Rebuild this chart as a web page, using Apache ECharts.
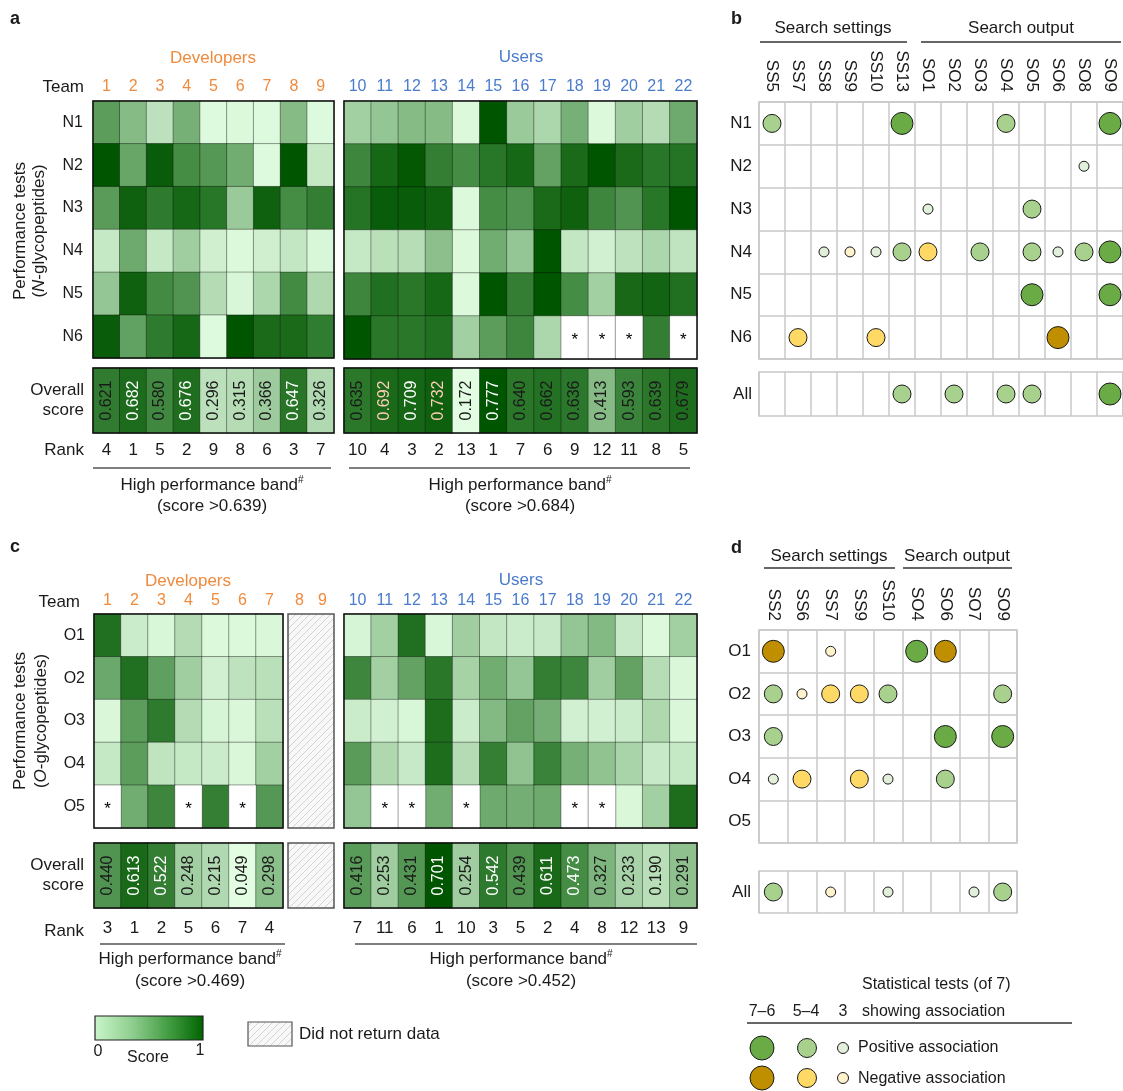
<!DOCTYPE html>
<html><head><meta charset="utf-8">
<script src="https://cdn.jsdelivr.net/npm/echarts@6/dist/echarts.min.js"></script>
<style>html,body{margin:0;padding:0;background:#fff}#c{width:1123px;height:1091px}</style>
</head><body><div id="c"></div>
<script>
// ---------------- DATA ----------------
const aDevTeams = ['1','2','3','4','5','6','7','8','9'];
const aUserTeams = ['10','11','12','13','14','15','16','17','18','19','20','21','22'];
const aTests = ['N1','N2','N3','N4','N5','N6'];
const aDevScores = [
  [0.55,0.40,0.20,0.45,0.02,0.03,0.02,0.40,0.02],
  [1.00,0.50,0.95,0.65,0.58,0.47,0.02,1.00,0.15],
  [0.56,0.92,0.75,0.88,0.78,0.33,0.92,0.65,0.73],
  [0.15,0.48,0.15,0.31,0.10,0.03,0.10,0.16,0.05],
  [0.35,0.92,0.66,0.60,0.24,0.05,0.27,0.66,0.26],
  [0.95,0.53,0.75,0.88,0.02,1.00,0.86,0.86,0.74]
];
const aUserScores = [
  [0.30,0.35,0.40,0.40,0.03,1.00,0.33,0.27,0.45,0.03,0.31,0.24,0.48],
  [0.68,0.88,0.98,0.73,0.65,0.78,0.88,0.52,0.86,1.00,0.86,0.78,0.80],
  [0.80,0.95,0.95,0.92,0.03,0.65,0.60,0.86,0.92,0.68,0.60,0.78,1.00],
  [0.15,0.21,0.23,0.38,0.03,0.47,0.35,1.00,0.16,0.09,0.19,0.27,0.18],
  [0.68,0.82,0.77,0.88,0.03,1.00,0.73,1.00,0.65,0.30,0.87,0.90,0.82],
  [1.00,0.77,0.77,0.82,0.30,0.55,0.68,0.27,null,null,null,0.73,null]
];
const aDevOverall = [0.621,0.682,0.580,0.676,0.296,0.315,0.366,0.647,0.326];
const aDevRank = [4,1,5,2,9,8,6,3,7];
const aUserOverall = [0.635,0.692,0.709,0.732,0.172,0.777,0.640,0.662,0.636,0.413,0.593,0.639,0.679];
const aUserRank = [10,4,3,2,13,1,7,6,9,12,11,8,5];
const aDevBand = 0.639, aUserBand = 0.684;
const aUserHighlight = ['11','13'];

const cDevTeams = ['1','2','3','4','5','6','7'];
const cNoDataTeams = ['8','9'];
const cUserTeams = ['10','11','12','13','14','15','16','17','18','19','20','21','22'];
const cTests = ['O1','O2','O3','O4','O5'];
const cDevScores = [
  [0.82,0.12,0.05,0.24,0.03,0.03,0.04],
  [0.49,0.82,0.54,0.31,0.09,0.19,0.21],
  [0.04,0.55,0.75,0.24,0.06,0.04,0.21],
  [0.15,0.55,0.18,0.15,0.12,0.04,0.30],
  [null,0.47,0.68,null,0.72,null,0.58]
];
const cUserScores = [
  [0.06,0.30,0.82,0.05,0.31,0.16,0.12,0.14,0.35,0.41,0.14,0.03,0.30],
  [0.68,0.30,0.52,0.77,0.29,0.47,0.35,0.73,0.68,0.31,0.52,0.23,0.04],
  [0.12,0.09,0.05,0.84,0.12,0.41,0.52,0.46,0.09,0.09,0.12,0.26,0.04],
  [0.56,0.26,0.14,0.84,0.24,0.72,0.36,0.70,0.45,0.36,0.28,0.14,0.15],
  [0.35,null,null,0.47,null,0.48,0.46,0.48,null,null,0.04,0.30,0.84]
];
const cDevOverall = [0.440,0.613,0.522,0.248,0.215,0.049,0.298];
const cDevRank = [3,1,2,5,6,7,4];
const cUserOverall = [0.416,0.253,0.431,0.701,0.254,0.542,0.439,0.611,0.473,0.327,0.233,0.190,0.291];
const cUserRank = [7,11,6,1,10,3,5,2,4,8,12,13,9];
const cDevBand = 0.469, cUserBand = 0.452;

// bubble: [column, test, level (3 = 7–6 tests, 2 = 5–4, 1 = 3), sign (+1 positive, -1 negative)]
const bCols = ['SS5','SS7','SS8','SS9','SS10','SS13','SO1','SO2','SO3','SO4','SO5','SO6','SO8','SO9'];
const bRows = ['N1','N2','N3','N4','N5','N6'];
const bAssoc = [
  ['SS5','N1',2,1],['SS13','N1',3,1],['SO4','N1',2,1],['SO9','N1',3,1],
  ['SO8','N2',1,1],
  ['SO1','N3',1,1],['SO5','N3',2,1],
  ['SS8','N4',1,1],['SS9','N4',1,-1],['SS10','N4',1,1],['SS13','N4',2,1],['SO1','N4',2,-1],['SO3','N4',2,1],
  ['SO5','N4',2,1],['SO6','N4',1,1],['SO8','N4',2,1],['SO9','N4',3,1],
  ['SO5','N5',3,1],['SO9','N5',3,1],
  ['SS7','N6',2,-1],['SS10','N6',2,-1],['SO6','N6',3,-1]
];
const bAll = [['SS13','All',2,1],['SO2','All',2,1],['SO4','All',2,1],['SO5','All',2,1],['SO9','All',3,1]];

const dCols = ['SS2','SS6','SS7','SS9','SS10','SO4','SO6','SO7','SO9'];
const dRows = ['O1','O2','O3','O4','O5'];
const dAssoc = [
  ['SS2','O1',3,-1],['SS7','O1',1,-1],['SO4','O1',3,1],['SO6','O1',3,-1],
  ['SS2','O2',2,1],['SS6','O2',1,-1],['SS7','O2',2,-1],['SS9','O2',2,-1],['SS10','O2',2,1],['SO9','O2',2,1],
  ['SS2','O3',2,1],['SO6','O3',3,1],['SO9','O3',3,1],
  ['SS2','O4',1,1],['SS6','O4',2,-1],['SS9','O4',2,-1],['SS10','O4',1,1],['SO6','O4',2,1]
];
const dAll = [['SS2','All',2,1],['SS7','All',1,-1],['SS10','All',1,1],['SO7','All',1,1],['SO9','All',2,1]];

// ---------------- STYLE ----------------
const FONT = '"Liberation Sans", Arial, Helvetica, sans-serif';
const TXT = '#1a1a1a';
const ORANGE = '#f08a3c', BLUE = '#4a7bcc';
const GREENS = ['#e2fde2','#b2dab2','#68a668','#2e7a2e','#005500'];
const POS = {3:'#6aab46', 2:'#a9d18e', 1:'#e2efda'};
const NEG = {3:'#bf8f00', 2:'#ffd966', 1:'#fff2cc'};
const SIZE = {3:22, 2:18, 1:10};

function hatchPattern(){
  const cv = document.createElement('canvas'); cv.width = 7; cv.height = 7;
  const g = cv.getContext('2d');
  g.fillStyle = '#f8f8f8'; g.fillRect(0,0,7,7);
  g.strokeStyle = '#d4d4d4'; g.lineWidth = 1;
  g.beginPath(); g.moveTo(0,7); g.lineTo(7,0); g.moveTo(-1,1); g.lineTo(1,-1); g.moveTo(6,8); g.lineTo(8,6); g.stroke();
  return {image: cv, repeat: 'repeat'};
}
const HATCH = hatchPattern();

function cells(m){ const o=[]; m.forEach((row,r)=>row.forEach((v,c)=>{ if(v!==null) o.push([c,r,v]); })); return o; }
function missing(m){ const o=[]; m.forEach((row,r)=>row.forEach((v,c)=>{ if(v===null) o.push([c,r,0]); })); return o; }
function overall(scores, band, teams, highlight){
  return scores.map((v,i)=>({value:[i,0,v], label:{color: (highlight||[]).includes(teams[i]) ? '#ffcdb8' : (v>band ? '#ffffff' : TXT)}}));
}

const G = [
  {left:93, top:101, width:241, height:257},
  {left:344, top:101, width:353, height:258},
  {left:93, top:368, width:241, height:65},
  {left:344, top:368, width:353, height:65},
  {left:94, top:614, width:189, height:214},
  {left:288, top:614, width:46, height:214},
  {left:344, top:614, width:353, height:214},
  {left:94, top:843, width:189, height:65},
  {left:288, top:843, width:46, height:65},
  {left:344, top:843, width:353, height:65},
  {left:759, top:102, width:366, height:257},
  {left:759, top:372, width:366, height:44},
  {left:759, top:630, width:258, height:213},
  {left:759, top:871, width:258, height:42}
];
const grids = G.map((g,i)=>{
  const base = Object.assign({containLabel:false}, g);
  if (i>=10) return Object.assign(base, {show:true, borderColor:'#c8c8c8', borderWidth:1.5, backgroundColor:'#fff'});
  if (i===5 || i===8) return Object.assign(base, {show:false});
  return Object.assign(base, {show:true, borderColor:'#111', borderWidth:1.5, backgroundColor:'transparent', z:5});
});

function xCat(gi, data, o){
  return {gridIndex:gi, type:'category', data, position:o.pos||'top',
    axisLine:{show:false}, axisTick:{show:false},
    splitLine:{show:!!o.split, interval:0, lineStyle:{color:'#c8c8c8', width:1.5}},
    axisLabel:Object.assign({show:o.show!==false, interval:0, fontFamily:FONT, fontSize:o.fs||16, color:o.color||TXT, margin:o.margin||6}, o.label||{})};
}
function yCat(gi, data, o){
  return {gridIndex:gi, type:'category', data, inverse:true,
    axisLine:{show:false}, axisTick:{show:false},
    splitLine:{show:!!o.split, interval:0, lineStyle:{color:'#c8c8c8', width:1.5}},
    axisLabel:Object.assign({show:o.show!==false, interval:0, fontFamily:FONT, fontSize:o.fs||16, color:TXT, margin:o.margin||10}, o.label||{})};
}
const xAxes = [
  xCat(0, aDevTeams, {color:ORANGE, margin:6}),
  xCat(1, aUserTeams, {color:BLUE, margin:6}),
  xCat(2, aDevTeams, {pos:'bottom', fs:17, margin:9, label:{formatter:(v,i)=>String(aDevRank[i])}}),
  xCat(3, aUserTeams, {pos:'bottom', fs:17, margin:9, label:{formatter:(v,i)=>String(aUserRank[i])}}),
  xCat(4, cDevTeams, {color:ORANGE, margin:5}),
  xCat(5, cNoDataTeams, {color:ORANGE, margin:5}),
  xCat(6, cUserTeams, {color:BLUE, margin:5}),
  xCat(7, cDevTeams, {pos:'bottom', fs:17, margin:12, label:{formatter:(v,i)=>String(cDevRank[i])}}),
  xCat(8, cNoDataTeams, {pos:'bottom', show:false}),
  xCat(9, cUserTeams, {pos:'bottom', fs:17, margin:12, label:{formatter:(v,i)=>String(cUserRank[i])}}),
  xCat(10, bCols, {fs:17, margin:10, split:true, label:{rotate:90}}),
  xCat(11, bCols, {pos:'bottom', show:false, split:true}),
  xCat(12, dCols, {fs:17, margin:9, split:true, label:{rotate:90}}),
  xCat(13, dCols, {pos:'bottom', show:false, split:true})
];
const yAxes = [
  yCat(0, aTests, {margin:10}),
  yCat(1, aTests, {show:false}),
  yCat(2, ['Overall\nscore'], {fs:17, margin:9, label:{lineHeight:20}}),
  yCat(3, ['Overall\nscore'], {show:false}),
  yCat(4, cTests, {margin:9}),
  yCat(5, cTests, {show:false}),
  yCat(6, cTests, {show:false}),
  yCat(7, ['Overall\nscore'], {fs:17, margin:10, label:{lineHeight:20}}),
  yCat(8, ['Overall\nscore'], {show:false}),
  yCat(9, ['Overall\nscore'], {show:false}),
  yCat(10, bRows, {fs:17, margin:7, split:true}),
  yCat(11, ['All'], {fs:17, margin:7}),
  yCat(12, dRows, {fs:17, margin:8, split:true}),
  yCat(13, ['All'], {fs:17, margin:8})
];

function heat(gi, data, extra){
  return Object.assign({type:'heatmap', xAxisIndex:gi, yAxisIndex:gi, data,
    itemStyle:{borderColor:'rgba(0,0,0,0.45)', borderWidth:0.8},
    emphasis:{disabled:true}, animation:false}, extra||{});
}
const scoreLabel = {show:true, rotate:90, fontFamily:FONT, fontSize:16, formatter:p=>p.value[2].toFixed(3)};
const starSeries = {itemStyle:{color:'#ffffff', borderColor:'rgba(0,0,0,0.45)', borderWidth:0.8},
  label:{show:true, formatter:'*', fontFamily:FONT, fontSize:17, color:'#000', offset:[0,3]}};
function hatchSeries(gi){
  return {type:'custom', coordinateSystem:'cartesian2d', xAxisIndex:gi, yAxisIndex:gi, data:[[0,0]], clip:false, z:3,
    renderItem:(params)=>{ const cs = params.coordSys;
      return {type:'rect', shape:{x:cs.x, y:cs.y, width:cs.width, height:cs.height},
        style:{fill:HATCH, stroke:'#555', lineWidth:1.5}}; }, silent:true};
}
function bubbles(gi, assoc){
  return {type:'scatter', xAxisIndex:gi, yAxisIndex:gi, data:assoc.map(a=>a.slice()), z:3, animation:false,
    symbolSize:v=>SIZE[v[2]],
    itemStyle:{borderColor:'#1a1a1a', borderWidth:1, opacity:1, color:p=>(p.value[3]>0?POS:NEG)[p.value[2]]},
    emphasis:{disabled:true}};
}

const series = [
  heat(0, cells(aDevScores)),
  heat(1, cells(aUserScores)),
  heat(2, overall(aDevOverall, aDevBand, aDevTeams), {label:scoreLabel}),
  heat(3, overall(aUserOverall, aUserBand, aUserTeams, aUserHighlight), {label:scoreLabel}),
  heat(4, cells(cDevScores)),
  heat(6, cells(cUserScores)),
  heat(7, overall(cDevOverall, cDevBand, cDevTeams), {label:scoreLabel}),
  heat(9, overall(cUserOverall, cUserBand, cUserTeams), {label:scoreLabel}),
  heat(1, missing(aUserScores), starSeries),
  heat(4, missing(cDevScores), starSeries),
  heat(6, missing(cUserScores), starSeries),
  hatchSeries(5),
  hatchSeries(8),
  bubbles(10, bAssoc),
  bubbles(11, bAll),
  bubbles(12, dAssoc),
  bubbles(13, dAll)
];

const aAll = aDevOverall.concat(aUserOverall), cAll = cDevOverall.concat(cUserOverall);
const visualMap = [
  {type:'continuous', show:false, dimension:2, min:0, max:1, seriesIndex:[0,1,4,5], inRange:{color:GREENS}},
  {type:'continuous', show:false, dimension:2, min:Math.min(...aAll), max:Math.max(...aAll), seriesIndex:[2,3], inRange:{color:GREENS}},
  {type:'continuous', show:false, dimension:2, min:Math.min(...cAll), max:Math.max(...cAll), seriesIndex:[6,7], inRange:{color:GREENS}}
];

// ---------------- GRAPHIC TEXT / LEGENDS ----------------
function T(x,y,text,o){ o=o||{};
  const st = {text, fill:o.fill||TXT, fontSize:o.fs||17, fontFamily:FONT, fontWeight:o.fw||'normal',
    align:o.align||'center', verticalAlign:o.va||'middle'};
  if (o.rich) st.rich = o.rich;
  return {type:'text', x, y, rotation:o.rot||0, style:st, silent:true};
}
function L(x1,y1,x2,y2,c){ return {type:'line', shape:{x1,y1,x2,y2}, style:{stroke:c||'#333', lineWidth:1.5}, silent:true}; }
function C(cx,cy,r,fill){ return {type:'circle', shape:{cx,cy,r}, style:{fill, stroke:'#1a1a1a', lineWidth:1}, silent:true}; }
const bandRich = {t:{fontSize:17, fontFamily:FONT, fill:TXT}, s:{fontSize:10, fontFamily:FONT, fill:TXT, padding:[0,0,9,0]}};
const italRich = (letter)=>({
  p:{fontSize:17, fontFamily:FONT, fill:TXT},
  i:{fontSize:17, fontFamily:FONT, fill:TXT, fontStyle:'italic'}
});
const graphic = [
  T(10,19,'a',{fw:'bold', fs:18, align:'left'}),
  T(731,19,'b',{fw:'bold', fs:18, align:'left'}),
  T(10,547,'c',{fw:'bold', fs:18, align:'left'}),
  T(731,548,'d',{fw:'bold', fs:18, align:'left'}),
  // panel a
  T(213,58,'Developers',{fill:ORANGE}),
  T(521,57,'Users',{fill:BLUE}),
  T(84,87,'Team',{align:'right'}),
  T(84,450,'Rank',{align:'right'}),
  T(20,231,'Performance tests',{rot:Math.PI/2}),
  T(39,231,'{p|(}{i|N}{p|-glycopeptides)}',{rot:Math.PI/2, rich:italRich()}),
  L(93,468,331,468,'#555'), L(349,468,690,468,'#555'),
  T(212,485,'{t|High performance band}{s|#}',{rich:bandRich}),
  T(212,506,'(score >0.639)'),
  T(520,485,'{t|High performance band}{s|#}',{rich:bandRich}),
  T(520,506,'(score >0.684)'),
  // panel c
  T(188,581,'Developers',{fill:ORANGE}),
  T(521,580,'Users',{fill:BLUE}),
  T(80,602,'Team',{align:'right'}),
  T(84,931,'Rank',{align:'right'}),
  T(20,721,'Performance tests',{rot:Math.PI/2}),
  T(41,721,'{p|(}{i|O}{p|-glycopeptides)}',{rot:Math.PI/2, rich:italRich()}),
  L(100,944,285,944,'#555'), L(355,944,697,944,'#555'),
  T(190,959,'{t|High performance band}{s|#}',{rich:bandRich}),
  T(190,981,'(score >0.469)'),
  T(521,959,'{t|High performance band}{s|#}',{rich:bandRich}),
  T(521,981,'(score >0.452)'),
  // colour legend
  {type:'rect', shape:{x:95,y:1016,width:108,height:24}, silent:true,
    style:{fill:{type:'linear',x:0,y:0,x2:1,y2:0,global:false,colorStops:[
      {offset:0,color:'#c9f6c9'},{offset:0.35,color:'#8fcd8f'},{offset:0.7,color:'#3e9a3e'},{offset:1,color:'#006400'}]},
      stroke:'#222', lineWidth:1.2}},
  T(98,1052,'0',{fs:16}), T(148,1058,'Score',{fs:16}), T(200,1051,'1',{fs:16}),
  {type:'rect', shape:{x:248,y:1022,width:44,height:24}, silent:true, style:{fill:HATCH, stroke:'#555', lineWidth:1.2}},
  T(299,1034,'Did not return data',{align:'left'}),
  // panel b headers
  T(833,28,'Search settings'), L(760,42,907,42),
  T(1021,28,'Search output'), L(921,42,1121,42),
  // panel d headers
  T(829,556,'Search settings'), L(764,568,895,568),
  T(957,556,'Search output'), L(903,568,1012,568),
  // bubble legend
  T(862,985,'Statistical tests (of 7)',{align:'left', fs:16}),
  T(762,1012,'7–6',{fs:16}), T(806,1012,'5–4',{fs:16}), T(843,1012,'3',{fs:16}),
  T(862,1012,'showing association',{align:'left', fs:16}),
  L(747,1023,1072,1023),
  C(762,1048,12,POS[3]), C(807,1048,9.5,POS[2]), C(843,1048,5.5,POS[1]),
  T(858,1048,'Positive association',{align:'left', fs:16}),
  C(762,1078,12,NEG[3]), C(807,1078,9.5,NEG[2]), C(843,1078,5.5,NEG[1]),
  T(858,1079,'Negative association',{align:'left', fs:16})
];

const chart = echarts.init(document.getElementById('c'), null, {renderer:'canvas'});
chart.setOption({
  animation:false,
  textStyle:{fontFamily:FONT},
  grid:grids, xAxis:xAxes, yAxis:yAxes, visualMap, series, graphic
});
</script>
</body></html>
